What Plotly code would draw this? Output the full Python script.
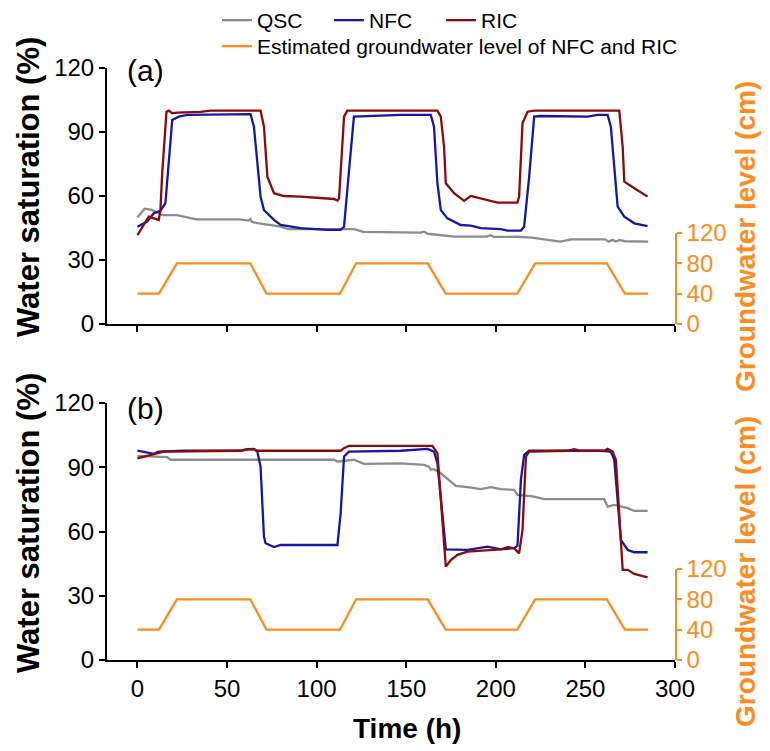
import plotly.graph_objects as go

# ---------------- data ----------------
# Estimated groundwater level (cm), same for both panels
gw_t = [0, 12, 22, 63, 72, 113, 122, 162, 172, 212, 222, 262, 272, 285]
gw_v = [40, 40, 80, 80, 40, 40, 80, 80, 40, 40, 80, 80, 40, 40]

# Panel (a)
qsc_a_t = [0, 4, 8, 14, 22, 33, 57, 62, 63, 64, 67, 80, 84, 121, 126, 147, 158, 160, 162, 177,
           195, 197, 199, 212, 220, 236, 242, 261, 263, 265, 267, 269, 272, 285]
qsc_a_v = [50, 54, 53.5, 51, 51, 49, 49, 48.5, 49.2, 47.8, 47.3, 45.6, 44.5, 44.5, 43.2, 43.1, 42.8, 43.3, 42.3, 41,
           41, 41.6, 40.8, 40.9, 40.5, 38.6, 39.7, 39.7, 38.6, 39.5, 38.7, 39.4, 38.8, 38.6]

nfc_a_t = [0, 5.4, 9.1, 12.8, 15.6, 17.5, 19.4, 23.1, 27.8, 63.1, 65, 68.7, 70.6, 76.2, 79.9, 91, 106,
           113.4, 115.3, 117.1, 120.8, 147, 163.7, 165.5, 167.4, 169.3, 173, 180.4, 186, 191.6, 202.8,
           206.5, 214, 215.8, 218.6, 221.4, 225.1, 251.2, 256.8, 262.4, 264.2, 268, 271.7, 277.3, 284.7]
nfc_a_v = [45.6, 48, 51.9, 53.1, 56.6, 78.4, 95.6, 97.2, 98, 98.4, 92.5, 59.7, 53.4, 48.8, 46.4, 44.9, 44.1,
           44.1, 45.6, 62.8, 97.2, 98, 98, 92.5, 66, 53.4, 49.5, 46.4, 46.1, 44.9, 44.5,
           43.8, 43.8, 45.6, 69, 97.2, 97.5, 97.2, 98, 98, 92.5, 55, 50.3, 47.2, 45.9]

ric_a_t = [0, 6.3, 11.9, 12.8, 13.8, 14.7, 16.2, 17.5, 19.4, 22.2, 35.2, 40.8, 68.7, 70.6, 72.5, 76.2,
           81.7, 91, 109.7, 111.6, 112.5, 115.3, 117.1, 167.4, 169.3, 171.1, 172.1, 176.7, 182.3, 186,
           200.9, 212.1, 213, 214.9, 217.7, 221.4, 268.9, 270.8, 271.7, 277.3, 284.7]
ric_a_v = [41.7, 50.3, 48.8, 53.4, 70.6, 81.6, 99.5, 100, 98.8, 99.1, 99.4, 100, 100, 92.5, 69, 61.3,
           60, 59.7, 58.6, 57.9, 58.9, 97.2, 100, 100, 97.2, 83.1, 66, 61.3, 57.7, 60,
           56.9, 56.9, 59.7, 94.1, 99.5, 100, 100, 83.1, 66.7, 63.6, 59.7]

# Panel (b)
qsc_b_t = [0, 16.6, 18.4, 109.7, 111.6, 117.1, 120.8, 126.4, 147, 160, 162.7, 163.7, 165.5, 169.3,
           174.9, 177.7, 184.2, 191.6, 197.2, 202.8, 210.2, 212.1, 217.7, 221.4, 227, 260.5, 262.4,
           266.1, 273.6, 277.3, 284.7]
qsc_b_v = [95.3, 94.7, 93.5, 93.5, 92.7, 93, 93.5, 91.6, 91.8, 91.1, 90.3, 88.8, 89.1, 87.2,
           83.3, 81.3, 80.7, 79.8, 80.7, 79.8, 79.4, 77.1, 76.6, 76.3, 75.1, 75.1, 71.6,
           72.4, 70.9, 69.6, 69.6]

nfc_b_t = [0, 5.4, 9.1, 11.9, 25.9, 57.5, 61.3, 65, 66.9, 68.7, 70.6, 71.5, 76.2, 79.9, 111.6, 113.4,
           115.3, 118, 147, 161.8, 165.5, 167.4, 170.2, 172.1, 184.2, 195.4, 202.8, 210.2, 212.1, 214,
           215.8, 218.6, 258.7, 264.2, 266.1, 269.8, 273.6, 277.3, 284.7]
nfc_b_v = [97.8, 96.9, 96.3, 97.3, 97.7, 97.7, 98.4, 98.6, 97.3, 90.3, 57.6, 54.5, 52.7, 53.7, 53.7, 68.5,
           95, 97.3, 97.7, 98.6, 97.3, 91.9, 68.5, 51.7, 51.4, 52.9, 51.7, 52.2, 53.4, 84.1,
           95.8, 97.7, 97.7, 97.3, 93.5, 56.1, 51.4, 50.3, 50.3]

ric_b_t = [0, 7.3, 14.7, 57.5, 61.3, 65, 66.9, 113.4, 115.3, 118, 147, 164.6, 167.4, 170.2, 172.1,
           174.9, 178.6, 184.2, 195.4, 202.8, 206.5, 210.2, 213, 214.9, 216.8, 218.6, 240, 243.7,
           247.5, 260.5, 262.4, 265.2, 267, 270.8, 273.6, 277.3, 284.7]
ric_b_v = [94.2, 95.8, 97.3, 97.7, 98.4, 98.4, 97.7, 97.7, 98.9, 100, 100, 100, 96.6, 63.9, 43.6,
           46.7, 49.1, 50.6, 51.4, 51.7, 52.7, 52.2, 49.8, 60.7, 95, 97.3, 97.7, 98.4,
           97.7, 97.7, 98.6, 97.3, 93.5, 42.1, 42.1, 40.2, 38.6]

x_ticks = [0, 50, 100, 150, 200, 250, 300]
ws_ticks = [0, 30, 60, 90, 120]
gw_ticks = [0, 40, 80, 120]

# ---------------- style ----------------
FONT = "Liberation Sans, Arial, sans-serif"
C_QSC = "#8c8c8c"
C_NFC = "#1616a8"
C_RIC = "#8b0a0a"
C_GW = "#ff8c1a"
LW = 2.3

fig = go.Figure()

def add_panel(xa, ya, yg, qt, qv, nt, nv, rt, rv, show):
    fig.add_trace(go.Scatter(x=qt, y=qv, mode="lines", name="QSC", line=dict(color=C_QSC, width=LW),
                             xaxis=xa, yaxis=ya, showlegend=show, legend="legend"))
    fig.add_trace(go.Scatter(x=nt, y=nv, mode="lines", name="NFC", line=dict(color=C_NFC, width=LW),
                             xaxis=xa, yaxis=ya, showlegend=show, legend="legend"))
    fig.add_trace(go.Scatter(x=rt, y=rv, mode="lines", name="RIC", line=dict(color=C_RIC, width=LW),
                             xaxis=xa, yaxis=ya, showlegend=show, legend="legend"))
    fig.add_trace(go.Scatter(x=gw_t, y=gw_v, mode="lines", name="Estimated groundwater level of NFC and RIC",
                             line=dict(color=C_GW, width=LW), xaxis=xa, yaxis=yg,
                             showlegend=show, legend="legend2"))

add_panel("x", "y", "y3", qsc_a_t, qsc_a_v, nfc_a_t, nfc_a_v, ric_a_t, ric_a_v, True)
add_panel("x2", "y2", "y4", qsc_b_t, qsc_b_v, nfc_b_t, nfc_b_v, ric_b_t, ric_b_v, False)

# The page body adds an 8px offset; the figure is sized so the page is 770x751.
OFF = 8
W, H = 770 - OFF, 751 - OFF
L, T = 107 - OFF, 68 - OFF
R = W - (675 - OFF)
B = H - (660 - OFF)
PW, PH = W - L - R, H - T - B

def py(page_y):  # page pixel y -> paper y
    return (H - B - (page_y - OFF)) / PH

def px(page_x):
    return (page_x - OFF - L) / PW

xcommon = dict(range=[-17, 300], tickvals=x_ticks, ticks="outside", ticklen=6, tickwidth=2,
               showline=True, linecolor="black", linewidth=2, tickcolor="black", automargin=False,
               showgrid=False, zeroline=False, tickfont=dict(size=24, color="black", family=FONT))
ycommon = dict(range=[0, 120], tickvals=ws_ticks, ticks="outside", ticklen=6, tickwidth=2,
               showline=True, linecolor="black", linewidth=2, tickcolor="black", automargin=False,
               showgrid=False, zeroline=False, tickfont=dict(size=24, color="black", family=FONT))
gcommon = dict(range=[0, 120], tickvals=gw_ticks, ticks="outside", ticklen=5, tickwidth=1.5,
               showline=True, linecolor=C_GW, linewidth=1.5, tickcolor=C_GW, side="right",
               automargin=False,
               showgrid=False, zeroline=False, tickfont=dict(size=24, color=C_GW, family=FONT))

leg_common = dict(orientation="h", xanchor="left", yanchor="top",
                  font=dict(size=21, family=FONT), bgcolor="rgba(0,0,0,0)", itemwidth=30)

fig.update_layout(
    width=W, height=H,
    margin=dict(l=L, r=R, t=T, b=B, autoexpand=False),
    paper_bgcolor="white", plot_bgcolor="rgba(0,0,0,0)",
    font=dict(family=FONT, color="black"),
    xaxis=dict(domain=[0, 1], anchor="y", showticklabels=False, **xcommon),
    yaxis=dict(domain=[py(324), 1], anchor="x", **ycommon),
    yaxis3=dict(domain=[py(324), py(233)], anchor="x", **gcommon),
    xaxis2=dict(domain=[0, 1], anchor="y2", **xcommon),
    yaxis2=dict(domain=[0, py(403)], anchor="x2", **ycommon),
    yaxis4=dict(domain=[0, py(569)], anchor="x2", **gcommon),
    legend=dict(x=px(217), y=py(0), entrywidth=67, entrywidthmode="pixels", **leg_common),
    legend2=dict(x=px(217), y=py(26), **leg_common),
)

ann = [
    dict(text="(a)", x=px(145), y=py(71), font=dict(size=30)),
    dict(text="(b)", x=px(145), y=py(408), font=dict(size=30)),
    dict(text="<b>Water saturation (%)</b>", x=px(28), y=py(187), textangle=-90, font=dict(size=31)),
    dict(text="<b>Water saturation (%)</b>", x=px(28), y=py(523), textangle=-90, font=dict(size=31)),
    dict(text="<b>Groundwater level (cm)</b>", x=px(745), y=py(237), textangle=-90,
         font=dict(size=28, color=C_GW)),
    dict(text="<b>Groundwater level (cm)</b>", x=px(745), y=py(572), textangle=-90,
         font=dict(size=28, color=C_GW)),
    dict(text="<b>Time (h)</b>", x=px(407), y=py(728), font=dict(size=28)),
]
for a in ann:
    fig.add_annotation(xref="paper", yref="paper", showarrow=False, xanchor="center", yanchor="middle",
                       font_family=FONT, **a)

fig.write_html("out.html")
